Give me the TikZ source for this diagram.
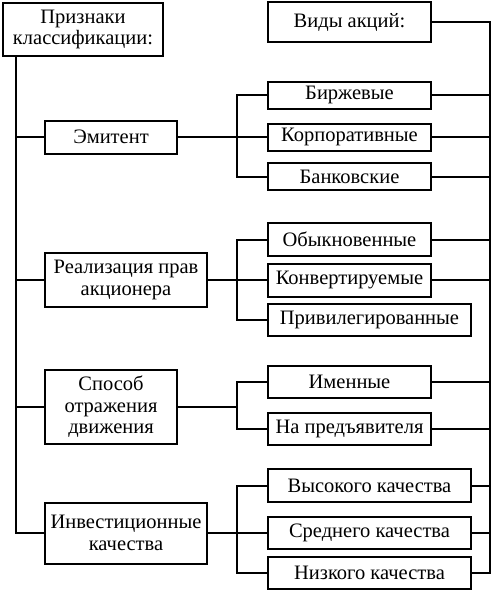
\documentclass[tikz,border=0pt]{standalone}
\usepackage{fontspec}
\setmainfont{Liberation Serif}
\usetikzlibrary{calc}

\begin{document}
\begin{tikzpicture}[x=1pt,y=-1pt,line width=2pt,
	box/.style={draw,font=\fontsize{20.5}{21.5}\selectfont,align=center,inner sep=0pt},
	small box/.style={box,minimum width=163pt,minimum height=32pt},
	wide box/.style={box,minimum width=203pt,minimum height=32pt}]
	\useasboundingbox (0,0) rectangle (492,590);
	
	% headers
	\node[box,minimum width=160pt,minimum height=53pt] (klass) at (83,29.5) {Признаки\\классификации:};
	\node[box,minimum width=163pt,minimum height=40pt] (vidy) at (349.5,22) {Виды акций:};
	
	% classification features
	\node[box,minimum width=132pt,minimum height=33pt] (emit) at (111,137) {Эмитент};
	\node[box,minimum width=162pt,minimum height=54pt] (real) at (126,280) {Реализация прав\\акционера};
	\node[box,minimum width=132pt,minimum height=74pt] (sposob) at (111,407) {Способ\\отражения\\движения};
	\node[box,minimum width=162pt,minimum height=61pt] (invest) at (126,533) {Инвестиционные\\качества};
	
	% kinds of shares
	\node[small box,minimum height=27pt] (birzh) at (349.5,95) {Биржевые};
	\node[small box,minimum height=27pt] (korp) at (349.5,137) {Корпоративные};
	\node[small box,minimum height=27pt] (bank) at (349.5,176.5) {Банковские};
	\node[small box,minimum height=33pt] (obyk) at (349.5,239.5) {Обыкновенные};
	\node[small box,minimum height=33pt] (konv) at (349.5,280) {Конвертируемые};
	\node[wide box] (priv) at (369.5,320) {Привилегированные};
	\node[small box] (imen) at (349.5,382) {Именные};
	\node[small box] (pred) at (349.5,429) {На предъявителя};
	\node[wide box,minimum height=33pt] (vys) at (369.5,485.5) {Высокого качества};
	\node[wide box] (sred) at (369.5,533) {Среднего качества};
	\node[wide box] (nizk) at (369.5,572.5) {Низкого качества};
	
	\coordinate (ltrunk) at (16,0);
	\coordinate (bus) at (237,0);
	\coordinate (rtrunk) at (490,0);
	
	% left trunk
	\draw (klass.south -| ltrunk) |- (invest.west);
	\draw (ltrunk |- emit) -- (emit.west);
	\draw (ltrunk |- real) -- (real.west);
	\draw (ltrunk |- sposob) -- (sposob.west);
	
	% right trunk
	\draw (vidy.east) -| (rtrunk |- nizk.east) -- (nizk.east);
	\foreach \n in {birzh,korp,bank,obyk,konv,imen,pred,vys,sred}
		\draw (\n.east) -- (rtrunk |- \n.east);
	
	% groups
	\draw (birzh.west) -| (bus |- bank.west) -- (bank.west);
	\draw (emit.east) -- (korp.west);
	\draw (obyk.west) -| (bus |- priv.west) -- (priv.west);
	\draw (real.east) -- (konv.west);
	\draw (imen.west) -| (bus |- pred.west) -- (pred.west);
	\draw (sposob.east) -- (bus |- sposob.east);
	\draw (vys.west) -| (bus |- nizk.west) -- (nizk.west);
	\draw (invest.east) -- (sred.west);
\end{tikzpicture}
\end{document}
